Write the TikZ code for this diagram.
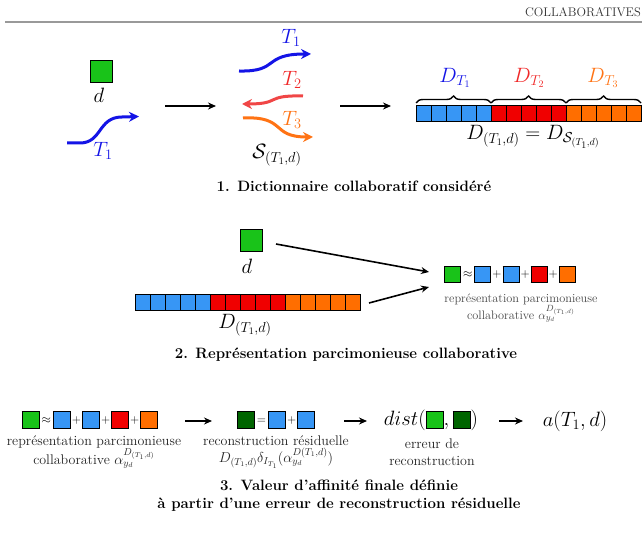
\documentclass[tikz,border=0pt]{standalone}
\usepackage{amsmath}
\usetikzlibrary{arrows.meta,decorations.pathreplacing,positioning}
\definecolor{cgreen}{RGB}{25,195,25}
\definecolor{cdkgreen}{RGB}{0,100,0}
\definecolor{cblue}{RGB}{55,150,245}
\definecolor{cred}{RGB}{240,0,0}
\definecolor{corange}{RGB}{255,110,0}
\definecolor{tblue}{RGB}{20,20,230}
\definecolor{tred}{RGB}{240,40,40}
\definecolor{arred}{RGB}{240,70,70}
\definecolor{torange}{RGB}{255,115,20}
\definecolor{ctext}{RGB}{70,70,70}
\definecolor{dtext}{RGB}{35,35,35}
\newcommand{\csq}[2][15pt]{\vcenter{\hbox{\setlength{\fboxsep}{0pt}\setlength{\fboxrule}{1pt}\fcolorbox{black}{#2}{\rule{0pt}{#1}\rule{#1}{0pt}}}}}
\newcommand{\tightsp}{\medmuskip=1.5mu\relax\thickmuskip=3mu\relax}
\tikzset{
    cell/.style={draw,line width=0.8pt,minimum width=15pt,minimum height=16pt,inner sep=0pt,outer sep=0pt},
    bigsq/.style={draw,line width=1pt,fill=cgreen,minimum size=22pt,inner sep=0pt},
    flow/.style={line width=1.6pt,-{Stealth[length=8pt,width=7pt]}},
    curvy/.style={line width=3pt,-{Stealth[length=10pt,width=10pt]}},
    lbl/.style={font=\fontsize{20}{24}\selectfont,inner sep=0pt},
    caption/.style={font=\fontsize{15}{18}\selectfont\bfseries,align=center,inner sep=0pt},
    note/.style={font=\fontsize{14}{17}\selectfont,align=center,inner sep=0pt,text=dtext},
    smallnote/.style={font=\fontsize{12.3}{15}\selectfont,align=center,inner sep=0pt,text=ctext},
    eqn/.style={font=\fontsize{13}{15}\selectfont,inner sep=0pt}
}
\tikzset{brc/.style={decorate,decoration={brace,amplitude=7pt,raise=2pt},line width=1.4pt}}
\begin{document}
\begin{tikzpicture}[x=1pt,y=-1pt]
    \useasboundingbox (0,0) rectangle (642,534);
    % page header
    \node[anchor=base east,font=\fontsize{12.5}{15}\selectfont,inner sep=0pt,text=black!80] (head) at (641,17) {COLLABORATIVES};
    \draw[line width=1.6pt,black!40] (5,22) -- (642,22);

    % 1.
    \node[bigsq] (dsq) at (101.5,72) {};
    \node[lbl] (dlab) at (99,95) {$d$};
    \draw[curvy,tblue] (67,143) -- (80,143) .. controls (102,143) and (98,117) .. (122,117) -- (139,116.5);
    \node[lbl,text=tblue] (tone) at (103,151) {$T_1$};
    \coordinate (go1) at (165,106);
    \coordinate (to1) at (216,106);
    \draw[flow] (go1) -- (to1);

    \draw[curvy,tblue] (239,71) .. controls (280,72) and (262,54) .. (311,54);
    \node[lbl,text=tblue] (ta) at (291,38) {$T_1$};
    \draw[curvy,arred] (303,96) .. controls (264,95) and (282,104) .. (242,104);
    \node[lbl,text=tred] (tb) at (292,80) {$T_2$};
    \draw[curvy,torange] (243,118) .. controls (287,116) and (270,137) .. (313,137);
    \node[lbl,text=torange] (tc) at (292,120) {$T_3$};
    \node[lbl] (sset) at (277,155) {$\mathcal{S}_{(T_1,d)}$};
    \coordinate (go2) at (340,106);
    \coordinate (to2) at (391,106);
    \draw[flow] (go2) -- (to2);

    \foreach \i in {0,...,4}
        \node[cell,fill=cblue] (u\i) at ({423.5+15*\i},113) {};
    \foreach \i in {5,...,9}
        \node[cell,fill=cred] (u\i) at ({423.5+15*\i},113) {};
    \foreach \i in {10,...,14}
        \node[cell,fill=corange] (u\i) at ({423.5+15*\i},113) {};
    \draw[brc] (u0.north west) -- (u4.north east);
    \draw[brc] (u5.north west) -- (u9.north east);
    \draw[brc] (u10.north west) -- (u14.north east);
    \node[lbl,text=tblue] (dta) at (455,78) {$D_{T_1}$};
    \node[lbl,text=tred] (dtb) at (529,78) {$D_{T_2}$};
    \node[lbl,text=torange] (dtc) at (603,78) {$D_{T_3}$};
    \node[lbl] (dict) at (533,137) {$D_{(T_1,d)}=D_{\mathcal{S}_{(T_1,d)}}$};
    \node[caption] (cap1) at (354,186) {1. Dictionnaire collaboratif considéré};

    % 2.
    \node[bigsq] (dsqb) at (251.5,240.5) {};
    \node[lbl] (dlabb) at (247,266) {$d$};
    \foreach \i in {0,...,4}
        \node[cell,fill=cblue] (v\i) at ({142.5+15*\i},302) {};
    \foreach \i in {5,...,9}
        \node[cell,fill=cred] (v\i) at ({142.5+15*\i},302) {};
    \foreach \i in {10,...,14}
        \node[cell,fill=corange] (v\i) at ({142.5+15*\i},302) {};
    \node[lbl] (dictb) at (245,325) {$D_{(T_1,d)}$};
    \node[eqn] (spb) at (510,275) {$\tightsp\csq{cgreen}\approx\csq{cblue}+\csq{cblue}+\csq{cred}+\csq{corange}$};
    \node[smallnote] (spbtxt) at (521,308) {représentation parcimonieuse\\collaborative $\alpha_{y_d}^{D_{(T_1,d)}}$};
    \coordinate (go3) at (276,244);
    \coordinate (go4) at (369,303);
    \coordinate (in3) at (429,272);
    \coordinate (in4) at (429,287);
    \draw[flow] (go3) -- (in3);
    \draw[flow] (go4) -- (in4);
    \node[caption] (cap2) at (346,355) {2. Représentation parcimonieuse collaborative};

    % 3.
    \node[eqn] (spc) at (90,420) {$\tightsp\csq[16pt]{cgreen}\approx\csq[16pt]{cblue}+\csq[16pt]{cblue}+\csq[16pt]{cred}+\csq[16pt]{corange}$};
    \node[note] (spctxt) at (94,452) {représentation parcimonieuse\\collaborative $\alpha_{y_d}^{D_{(T_1,d)}}$};
    \node[eqn] (rec) at (276,420) {$\tightsp\csq[16pt]{cdkgreen}=\csq[16pt]{cblue}+\csq[16pt]{cblue}$};
    \node[note] (rectxt) at (276,452) {reconstruction résiduelle\\$D_{(T_1,d)}\delta_{I_{T_1}}(\alpha_{y_d}^{D(T_1,d)})$};
    \node[lbl] (dist) at (431,420) {$dist\mathopen{}\left(\csq[16pt]{cgreen},\csq[16pt]{cdkgreen}\right)$};
    \node[note] (disttxt) at (432,452) {erreur de\\reconstruction};
    \node[lbl] (aff) at (575,421) {$a(T_1,d)$};
    \coordinate (go5) at (185,421);
    \coordinate (to5) at (212,421);
    \coordinate (go6) at (344,421);
    \coordinate (to6) at (367,421);
    \coordinate (go7) at (499,421);
    \coordinate (to7) at (523,421);
    \draw[flow] (go5) -- (to5);
    \draw[flow] (go6) -- (to6);
    \draw[flow] (go7) -- (to7);
    \node[caption] (cap3) at (339,496) {3. Valeur d'affinité finale définie\\à partir d'une erreur de reconstruction résiduelle};
\end{tikzpicture}
\end{document}
